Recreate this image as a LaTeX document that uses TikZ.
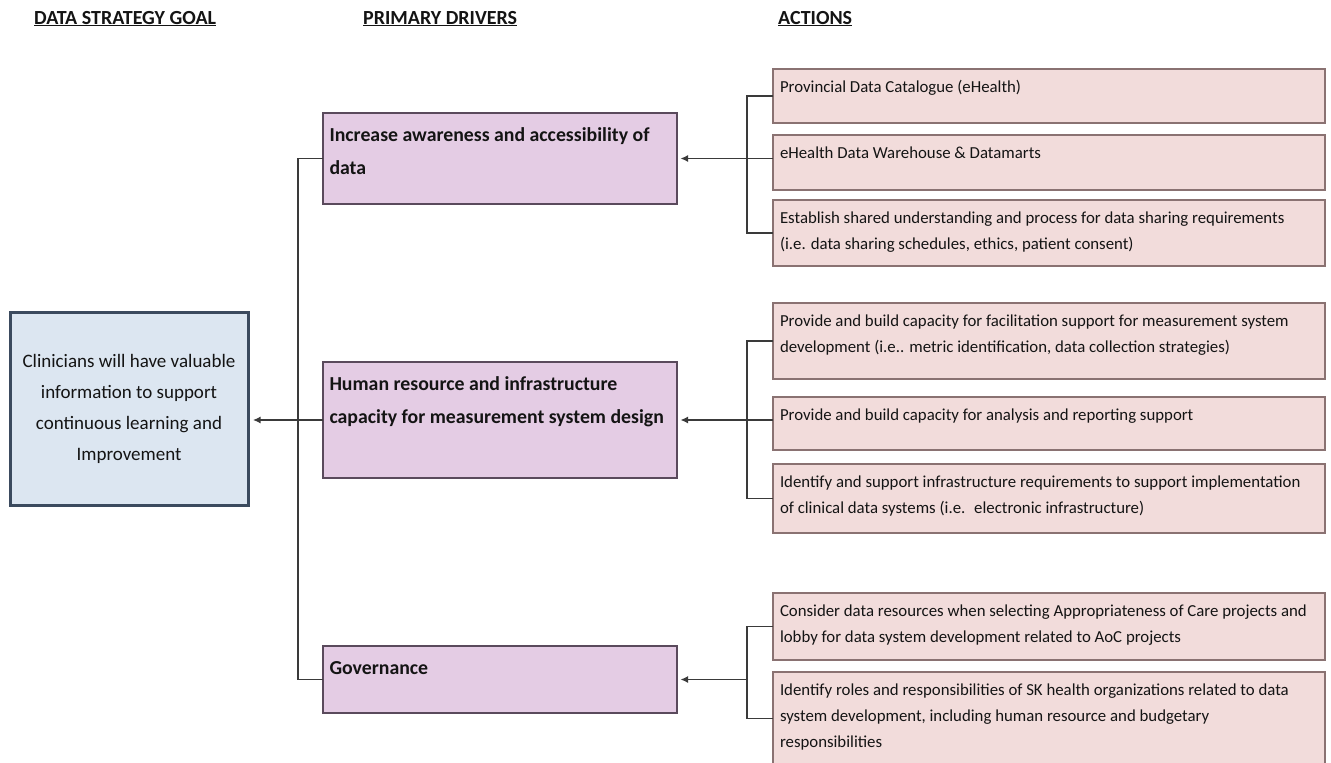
\documentclass[tikz,border=0pt]{standalone}
\usepackage{fontspec}
\setmainfont{Carlito}
\usetikzlibrary{arrows.meta}
\definecolor{actfill}{HTML}{F2DCDB}
\definecolor{actline}{HTML}{8A7272}
\definecolor{drvfill}{HTML}{E4CCE4}
\definecolor{drvline}{HTML}{5A4A5C}
\definecolor{goalfill}{HTML}{DCE6F1}
\definecolor{goalline}{HTML}{3B4A5E}
\definecolor{conn}{HTML}{3A3A3A}
\definecolor{txt}{HTML}{141414}
\newcommand\actpb[2]{\parbox[c][#1][t]{538pt}{\raggedright\fontsize{16.8pt}{26pt}\selectfont\strut #2}}
\newcommand\drvpb[2]{\parbox[c][#1][t]{341pt}{\raggedright\fontsize{19.8pt}{33pt}\selectfont\bfseries\strut #2}}
\begin{document}
\begin{tikzpicture}[x=1pt,y=-1pt,
  act/.style={draw=actline, line width=1.3pt, fill=actfill, anchor=north west, inner xsep=7pt, inner ysep=5pt, outer sep=0pt, text=txt},
  drv/.style={draw=drvline, line width=1.5pt, fill=drvfill, anchor=north west, inner xsep=6.5pt, inner ysep=5pt, outer sep=0pt, text=txt},
  goalbox/.style={draw=goalline, line width=3pt, fill=goalfill, minimum width=238pt, minimum height=193pt, align=center, text=txt, font=\fontsize{19pt}{31pt}\selectfont},
  hdr/.style={anchor=base west, inner sep=0pt, text=txt, font=\fontsize{20pt}{22pt}\selectfont\bfseries},
  link/.style={draw=conn, line width=1.4pt},
  arr/.style={link, -{Latex[length=7.5pt,width=7pt]}, shorten >=3.5pt}
]
\useasboundingbox[fill=white] (0,0) rectangle (1331,763);

% headers
\node[hdr] (h1) at (34,24) {\underline{DATA STRATEGY GOAL}};
\node[hdr] (h2) at (363,24) {\underline{PRIMARY DRIVERS}};
\node[hdr] (h3) at (778,24) {\underline{ACTIONS}};

% goal
\node[goalbox] (goal) at (129,408.5) {Clinicians will have valuable\\information to support\\continuous learning and\\Improvement};

% drivers
\node[drv] (d1) at (323,113) {\drvpb{81pt}{Increase awareness and accessibility of\\data}};
\node[drv] (d2) at (323,362) {\drvpb{106pt}{Human resource and infrastructure\\capacity for measurement system design}};
\node[drv] (d3) at (323,646) {\drvpb{57pt}{Governance}};

% actions
\node[act] (a1) at (773,69) {\actpb{44pt}{Provincial Data Catalogue (eHealth)}};
\node[act] (a2) at (773,135) {\actpb{45pt}{eHealth Data Warehouse \& Datamarts}};
\node[act] (a3) at (773,200) {\actpb{56pt}{Establish shared understanding and process for data sharing requirements\\(i.e. data sharing schedules, ethics, patient consent)}};
\node[act] (a4) at (773,303) {\actpb{66pt}{Provide and build capacity for facilitation support for measurement system\\development (i.e.. metric identification, data collection strategies)}};
\node[act] (a5) at (773,397) {\actpb{43pt}{Provide and build capacity for analysis and reporting support}};
\node[act] (a6) at (773,464) {\actpb{59pt}{Identify and support infrastructure requirements to support implementation\\of clinical data systems (i.e.~ electronic infrastructure)}};
\node[act] (a7) at (773,593) {\actpb{57pt}{Consider data resources when selecting Appropriateness of Care projects and\\lobby for data system development related to AoC projects}};
\node[act] (a8) at (773,672) {\actpb{83pt}{Identify roles and responsibilities of SK health organizations related to data\\system development, including human resource and budgetary\\responsibilities}};

% bracket positions
\coordinate (lb) at (298,0);
\coordinate (rb) at (747,0);

% left bracket and goal arrow
\draw[link] (d1.west) -- (d1.west -| lb) -- (d3.west -| lb) -- (d3.west);
\draw[arr] (d2.west) -- (d2.west -| goal.east);

% right brackets and driver arrows
\draw[link] (a1.west) -- (a1.west -| rb) -- (a3.west -| rb) -- (a3.west);
\draw[arr] (a2.west |- d1.east) -- (d1.east);
\draw[link] (a4.west) -- (a4.west -| rb) -- (a6.west -| rb) -- (a6.west);
\draw[arr] (a5.west |- d2.east) -- (d2.east);
\draw[link] (a7.west) -- (a7.west -| rb) -- (a8.west -| rb) -- (a8.west);
\coordinate (r3) at (d3.east -| rb);
\draw[arr] (r3) -- (d3.east);
\end{tikzpicture}
\end{document}
